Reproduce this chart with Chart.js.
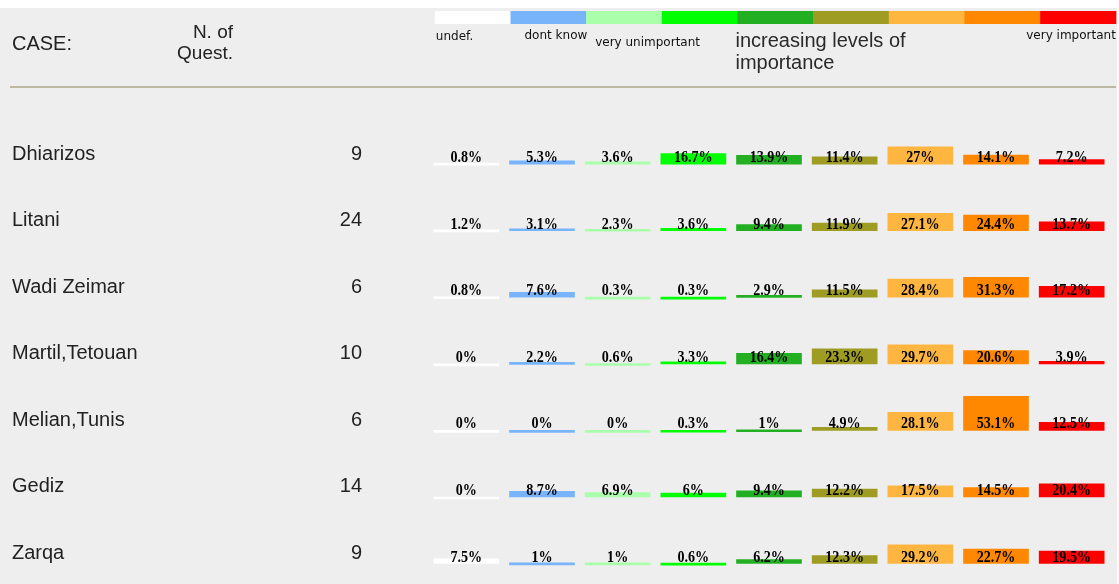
<!DOCTYPE html>
<html>
<head>
<meta charset="utf-8">
<title>Importance levels by case</title>
<script src="https://cdn.jsdelivr.net/npm/chart.js@4/dist/chart.umd.min.js"></script>
<style>
    html, body { margin: 0; padding: 0; background: #ffffff; overflow: hidden; }
    canvas { display: block; }
</style>
</head>
<body>
<canvas id="chart" width="1119" height="584"></canvas>
<script>
// data
var cases = ['Dhiarizos', 'Litani', 'Wadi Zeimar', 'Martil,Tetouan', 'Melian,Tunis', 'Gediz', 'Zarqa'];
var nQuest = [9, 24, 6, 10, 6, 14, 9];
var levels = ['undef.', 'dont know', 'very unimportant', '', '', '', '', '', 'very important'];
var middleLabel = ['increasing levels of', 'importance'];

var dhiarizos = [0.8, 5.3, 3.6, 16.7, 13.9, 11.4, 27, 14.1, 7.2];
var litani = [1.2, 3.1, 2.3, 3.6, 9.4, 11.9, 27.1, 24.4, 13.7];
var wadiZeimar = [0.8, 7.6, 0.3, 0.3, 2.9, 11.5, 28.4, 31.3, 17.2];
var martilTetouan = [0, 2.2, 0.6, 3.3, 16.4, 23.3, 29.7, 20.6, 3.9];
var melianTunis = [0, 0, 0, 0.3, 1, 4.9, 28.1, 53.1, 12.5];
var gediz = [0, 8.7, 6.9, 6, 9.4, 12.2, 17.5, 14.5, 20.4];
var zarqa = [7.5, 1, 1, 0.6, 6.2, 12.3, 29.2, 22.7, 19.5];

var caseValues = [dhiarizos, litani, wadiZeimar, martilTetouan, melianTunis, gediz, zarqa];

var levelColors = ['#ffffff', '#78b4fa', '#aaffaa', '#00ff00', '#22b022', '#9e9c22', '#ffb640', '#ff8800', '#ff0000'];

// each row sits ROW_STEP units below the previous one on the y scale
var ROW_STEP = 104;

function rowBase(r) {
    return -r * ROW_STEP;
}

var datasets = caseValues.map(function (values, r) {
    return {
        label: cases[r],
        data: values.map(function (v) {
            return [rowBase(r), rowBase(r) + v];
        }),
        backgroundColor: levelColors,
        borderWidth: 0,
        grouped: false,
        barThickness: 65,
        minBarLength: 2
    };
});

var tablePlugin = {
    id: 'table',
    beforeDraw: function (chart) {
        var ctx = chart.ctx;
        ctx.save();
        ctx.fillStyle = '#ffffff';
        ctx.fillRect(0, 0, chart.width, chart.height);
        ctx.fillStyle = '#eeeeee';
        ctx.fillRect(0, 8, 1117, chart.height - 8);

        // colour strip over the columns
        var meta = chart.getDatasetMeta(0);
        var xs = chart.scales.x;
        var cell = xs.getPixelForValue(1) - xs.getPixelForValue(0);
        var cellLeft = function (i) {
            return meta.data[i].x - meta.data[i].width / 2 + 1;
        };
        meta.data.forEach(function (bar, i) {
            ctx.fillStyle = levelColors[i];
            ctx.fillRect(cellLeft(i), 11, cell + 0.5, 13);
        });

        // header texts
        ctx.fillStyle = '#222222';
        ctx.textBaseline = 'alphabetic';
        ctx.font = '20px "Liberation Sans", Arial, sans-serif';
        ctx.textAlign = 'left';
        ctx.fillText('CASE:', 12, 50);
        ctx.font = '19px "Liberation Sans", Arial, sans-serif';
        ctx.textAlign = 'right';
        ctx.fillText('N. of', 233, 38);
        ctx.fillText('Quest.', 233, 59);

        ctx.font = '12px "DejaVu Sans", Verdana, sans-serif';
        ctx.fillStyle = '#111111';
        ctx.textAlign = 'left';
        ctx.fillText(levels[0], cellLeft(0) + 1, 40);
        ctx.fillText(levels[1], cellLeft(1) + 14, 39);
        ctx.fillText(levels[2], cellLeft(2) + 9, 46);
        ctx.textAlign = 'right';
        ctx.fillText(levels[8], cellLeft(8) + cell, 39);

        ctx.font = '20px "Liberation Sans", Arial, sans-serif';
        ctx.fillStyle = '#2a2a2a';
        ctx.textAlign = 'left';
        ctx.fillText(middleLabel[0], cellLeft(4) - 2, 47);
        ctx.fillText(middleLabel[1], cellLeft(4) - 2, 69);

        // separator line
        ctx.strokeStyle = '#bcb8a4';
        ctx.lineWidth = 2;
        ctx.beginPath();
        ctx.moveTo(10, 87);
        ctx.lineTo(1116, 87);
        ctx.stroke();

        // case names and questionnaire counts
        var ys = chart.scales.y;
        ctx.fillStyle = '#222222';
        ctx.font = '20px "Liberation Sans", Arial, sans-serif';
        cases.forEach(function (name, r) {
            var y = ys.getPixelForValue(rowBase(r)) - 4.5;
            ctx.textAlign = 'left';
            ctx.fillText(name, 12, y);
            ctx.textAlign = 'right';
            ctx.fillText(String(nQuest[r]), 362, y);
        });
        ctx.restore();
    },
    afterDatasetsDraw: function (chart) {
        var ctx = chart.ctx;
        var ys = chart.scales.y;
        ctx.save();
        ctx.fillStyle = '#000000';
        ctx.font = 'bold 16px "Liberation Serif", "Times New Roman", serif';
        ctx.textAlign = 'center';
        ctx.textBaseline = 'alphabetic';
        chart.data.datasets.forEach(function (ds, r) {
            var meta = chart.getDatasetMeta(r);
            var y = ys.getPixelForValue(rowBase(r)) - 2;
            meta.data.forEach(function (bar, i) {
                ctx.save();
                ctx.translate(bar.x, y);
                ctx.scale(0.88, 1);
                ctx.fillText(caseValues[r][i] + '%', 0, 0);
                ctx.restore();
            });
        });
        ctx.restore();
    }
};

new Chart(document.getElementById('chart').getContext('2d'), {
    type: 'bar',
    data: {
        labels: levels,
        datasets: datasets
    },
    options: {
        responsive: false,
        animation: false,
        layout: {
            padding: {left: 428.5, right: 9.5, top: 97.6, bottom: 0}
        },
        plugins: {
            legend: {display: false},
            tooltip: {enabled: false}
        },
        scales: {
            x: {display: false},
            y: {display: false, min: -656, max: 104}
        }
    },
    plugins: [tablePlugin]
});
</script>
</body>
</html>
